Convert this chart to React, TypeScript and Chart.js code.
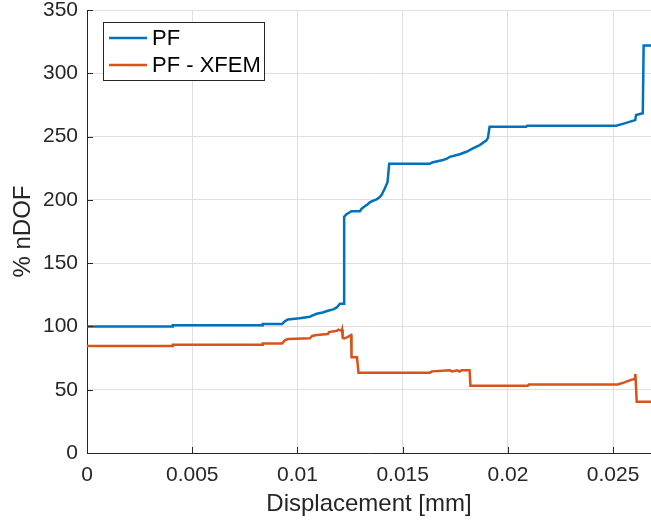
import React, { useEffect, useRef } from 'react';
import { Chart, registerables } from 'chart.js';

Chart.register(...registerables);

// ---- data ----
const seriesNames = ['PF', 'PF - XFEM'];
const seriesColors = ['#0072BD', '#D95319'];

const pfX = [0, 0.00408, 0.00408, 0.00835, 0.00835, 0.00927, 0.0094, 0.00955, 0.0101, 0.01059, 0.0107, 0.01091, 0.0112, 0.01145, 0.0117, 0.01187, 0.01202, 0.01222, 0.01222, 0.01233, 0.01257, 0.01297, 0.01305, 0.0132, 0.0133, 0.01344, 0.01355, 0.01376, 0.0139, 0.014, 0.01415, 0.01428, 0.01436, 0.01629, 0.0164, 0.01692, 0.0171, 0.01724, 0.01771, 0.01803, 0.01834, 0.01866, 0.01898, 0.01905, 0.01913, 0.02087, 0.02092, 0.02514, 0.02546, 0.02585, 0.02605, 0.02609, 0.02641, 0.02645, 0.0268];
const pfY = [100, 100, 101, 101, 102, 102, 104, 105.5, 106.5, 107.7, 108.5, 110, 111, 112.4, 113.5, 115, 118, 118, 186.7, 188.6, 191, 191, 193, 195, 196, 198, 199, 200.4, 202, 204, 209, 214, 228.5, 228.5, 229.5, 231.5, 232.5, 234, 236, 238, 240.7, 243.3, 247, 249, 257.8, 257.8, 258.5, 258.5, 260, 262, 263, 267, 268.4, 322, 322];

const xfemX = [0, 0.00408, 0.00408, 0.00835, 0.00835, 0.00927, 0.0094, 0.00955, 0.01059, 0.0107, 0.01091, 0.01145, 0.0115, 0.01187, 0.01195, 0.0121, 0.01212, 0.01215, 0.01222, 0.01235, 0.01255, 0.01257, 0.01283, 0.0129, 0.01629, 0.0164, 0.01724, 0.01735, 0.0176, 0.0177, 0.0178, 0.01818, 0.01822, 0.02095, 0.021, 0.02522, 0.02554, 0.02585, 0.02603, 0.02606, 0.02612, 0.0268];
const xfemY = [84.5, 84.5, 85.5, 85.5, 86.5, 86.5, 89, 90, 90.6, 92.5, 93.2, 94, 95.5, 96.5, 97.5, 96.5, 97.5, 91, 90.6, 91.4, 93.2, 75.6, 75.6, 63.5, 63.5, 64.5, 65.3, 64.5, 65.3, 64.3, 65.3, 65.3, 53.2, 53.2, 54.2, 54.2, 55.8, 57.8, 58.5, 62.4, 40.5, 40.5];

const xTicks = [0, 0.005, 0.01, 0.015, 0.02, 0.025];
const xTickLabels = ['0', '0.005', '0.01', '0.015', '0.02', '0.025'];
const yTicks = [0, 50, 100, 150, 200, 250, 300, 350];
const yTickLabels = ['0', '50', '100', '150', '200', '250', '300', '350'];
const xTitle = 'Displacement [mm]';
const yTitle = '% nDOF';
const xMin = 0;
const xMax = 0.0268;
const yMin = 0;
const yMax = 350;

const FONT = '"Liberation Sans", Arial, Helvetica, sans-serif';
const TEXT = '#262626';

const innerTicks = {
  id: 'innerTicks',
  afterDatasetsDraw(chart: any) {
    const { ctx, chartArea: a, scales } = chart;
    ctx.save();
    ctx.strokeStyle = TEXT;
    ctx.lineWidth = 1;
    ctx.beginPath();
    for (const v of xTicks) {
      const px = Math.round(scales.x.getPixelForValue(v)) + 0.5;
      ctx.moveTo(px, a.bottom);
      ctx.lineTo(px, a.bottom - 6);
    }
    for (const v of yTicks) {
      const py = Math.round(scales.y.getPixelForValue(v)) + 0.5;
      ctx.moveTo(a.left, py);
      ctx.lineTo(a.left + 6, py);
    }
    ctx.stroke();
    ctx.restore();
  },
};

const boxLegend = {
  id: 'boxLegend',
  afterDraw(chart: any) {
    const { ctx, chartArea: a } = chart;
    const x0 = a.left + 16;
    const y0 = a.top + 12;
    const w = 161;
    const h = 58;
    ctx.save();
    ctx.fillStyle = '#ffffff';
    ctx.fillRect(x0, y0, w, h);
    ctx.strokeStyle = TEXT;
    ctx.lineWidth = 1;
    ctx.strokeRect(x0 + 0.5, y0 + 0.5, w, h);
    ctx.font = `22px ${FONT}`;
    ctx.textBaseline = 'middle';
    ctx.textAlign = 'left';
    chart.data.datasets.forEach((ds: any, i: number) => {
      const cy = y0 + 16 + i * 27;
      ctx.strokeStyle = ds.borderColor;
      ctx.lineWidth = 2.5;
      ctx.beginPath();
      ctx.moveTo(x0 + 6, cy);
      ctx.lineTo(x0 + 44, cy);
      ctx.stroke();
      ctx.fillStyle = '#000000';
      ctx.fillText(ds.label, x0 + 49, cy + 1);
    });
    ctx.restore();
  },
};

export default function App() {
  const ref = useRef<HTMLCanvasElement | null>(null);

  useEffect(() => {
    if (!ref.current) return;
    const chart = new Chart(ref.current, {
      type: 'line',
      data: {
        datasets: [
          {
            label: seriesNames[0],
            data: pfX.map((x, i) => ({ x, y: pfY[i] })),
            borderColor: seriesColors[0],
            backgroundColor: seriesColors[0],
            borderWidth: 2.5,
            pointRadius: 0,
            tension: 0,
          },
          {
            label: seriesNames[1],
            data: xfemX.map((x, i) => ({ x, y: xfemY[i] })),
            borderColor: seriesColors[1],
            backgroundColor: seriesColors[1],
            borderWidth: 2.5,
            pointRadius: 0,
            tension: 0,
          },
        ],
      },
      options: {
        animation: false,
        responsive: false,
        maintainAspectRatio: false,
        devicePixelRatio: 1,
        layout: { padding: { top: 10, right: 0, left: 0, bottom: 0 } },
        plugins: {
          legend: { display: false },
          tooltip: { enabled: false },
        },
        scales: {
          x: {
            type: 'linear',
            min: xMin,
            max: xMax,
            afterBuildTicks: (s: any) => {
              s.ticks = xTicks.map((v) => ({ value: v }));
            },
            afterFit: (s: any) => {
              s.height = 70;
              s.paddingLeft = 0;
              s.paddingRight = 0;
            },
            ticks: {
              autoSkip: false,
              maxRotation: 0,
              padding: 10,
              color: TEXT,
              font: { family: FONT, size: 21 },
              callback: (_v: any, i: number) => xTickLabels[i],
            },
            grid: { color: '#dfdfdf', lineWidth: 1, drawTicks: false },
            border: { display: true, color: TEXT, width: 1 },
            title: {
              display: true,
              text: xTitle,
              color: TEXT,
              font: { family: FONT, size: 24 },
              padding: { top: 0, bottom: 4 },
            },
          },
          y: {
            type: 'linear',
            min: yMin,
            max: yMax,
            afterBuildTicks: (s: any) => {
              s.ticks = yTicks.map((v) => ({ value: v }));
            },
            afterFit: (s: any) => {
              s.width = 87;
              s.paddingTop = 0;
              s.paddingBottom = 0;
            },
            ticks: {
              autoSkip: false,
              padding: 9,
              color: TEXT,
              font: { family: FONT, size: 21 },
              callback: (_v: any, i: number) => yTickLabels[i],
            },
            grid: { color: '#dfdfdf', lineWidth: 1, drawTicks: false },
            border: { display: true, color: TEXT, width: 1 },
            title: {
              display: true,
              text: yTitle,
              color: TEXT,
              font: { family: FONT, size: 24 },
              padding: { top: 9, bottom: 0 },
            },
          },
        },
      },
      plugins: [innerTicks, boxLegend],
    } as any);
    return () => chart.destroy();
  }, []);

  return (
    <div style={{ position: 'fixed', left: 0, top: 0, width: 651, height: 523, background: '#fff' }}>
      <canvas ref={ref} width={651} height={523} style={{ display: 'block' }} />
    </div>
  );
}
